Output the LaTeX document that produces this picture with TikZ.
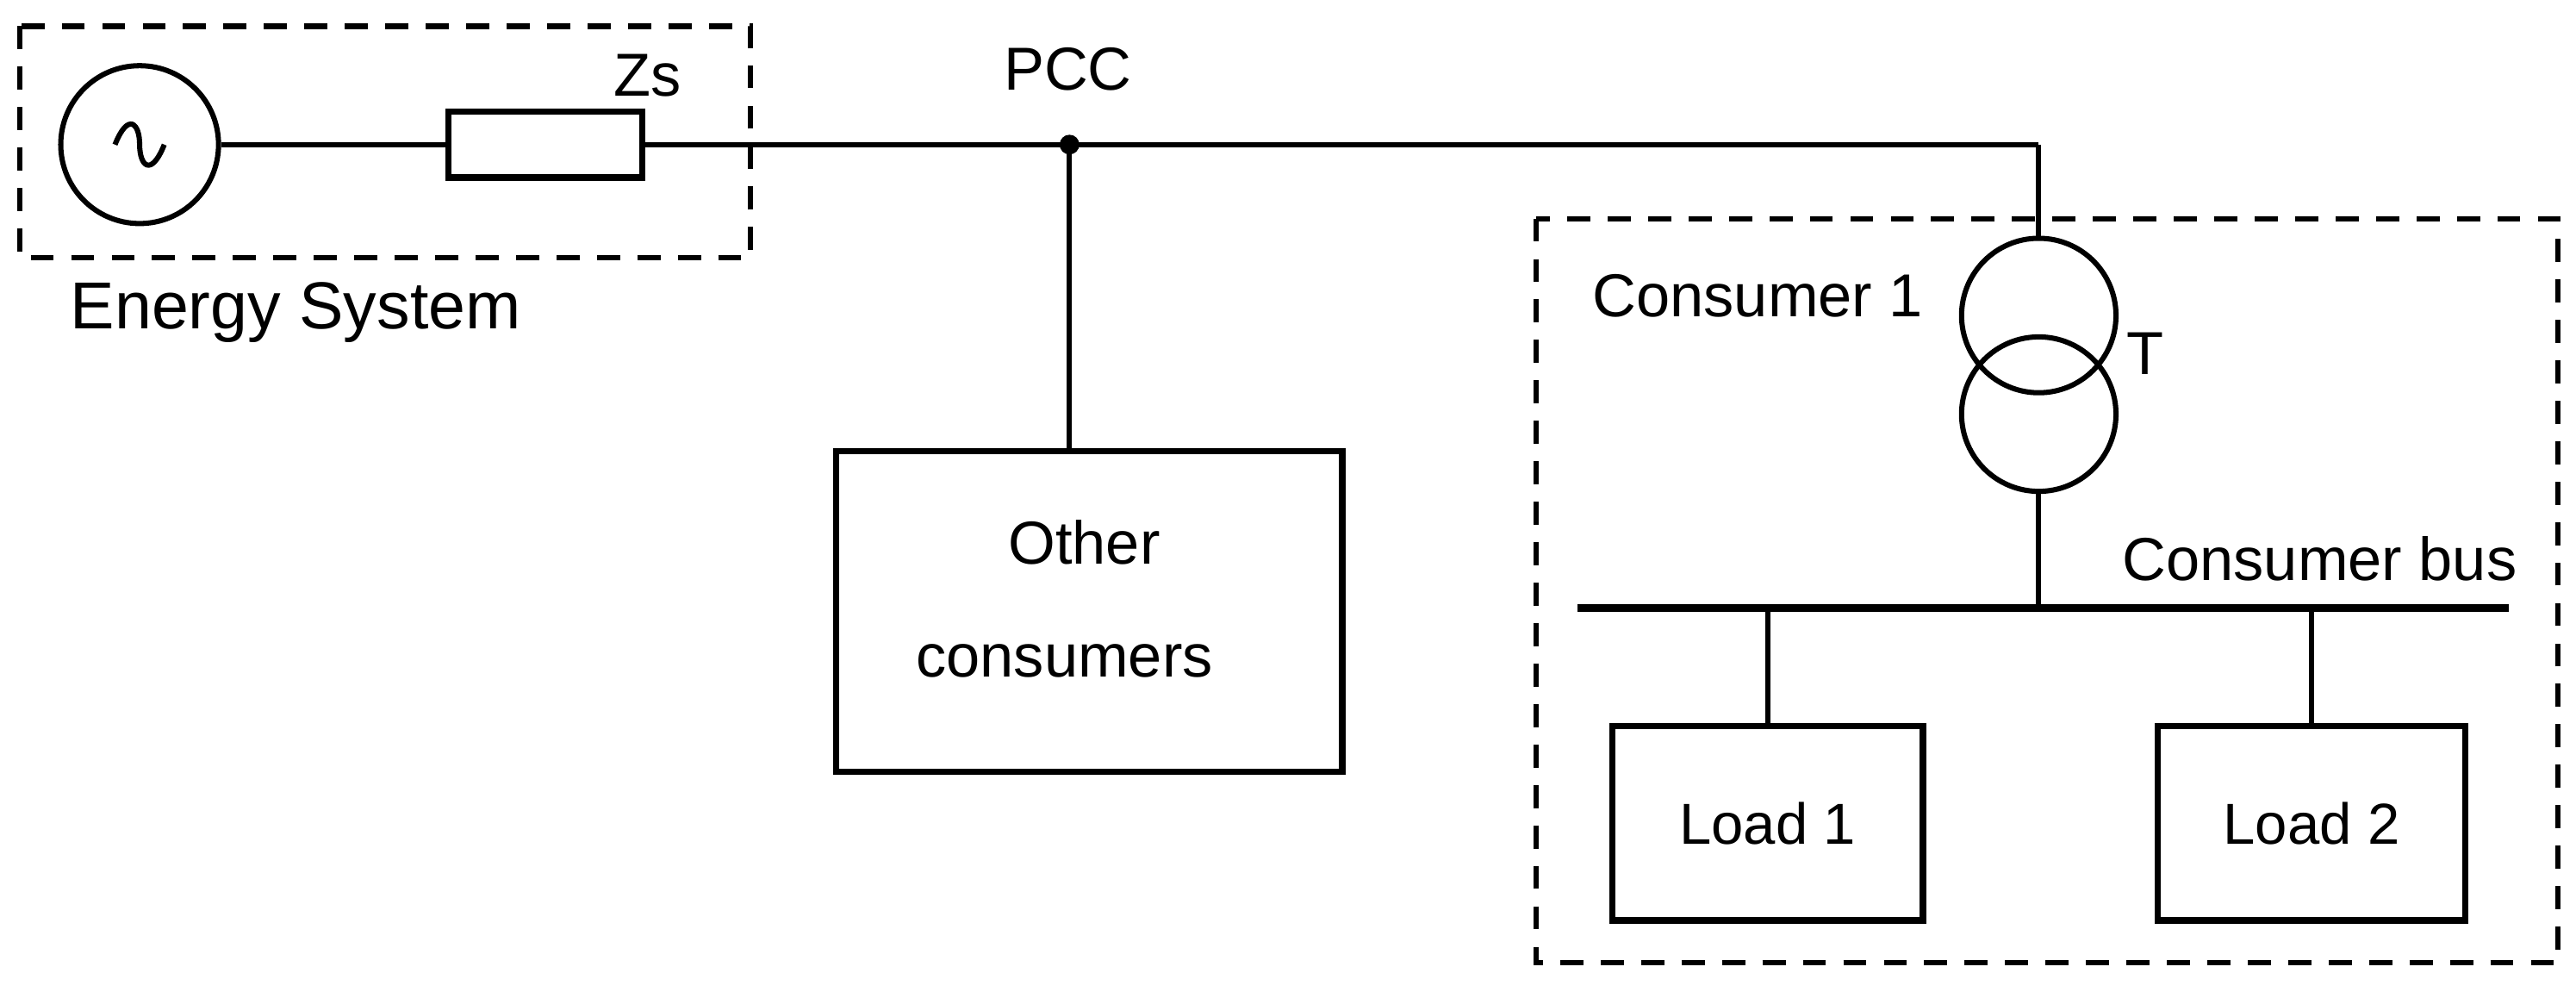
\documentclass[tikz,border=0pt]{standalone}
\usepackage{fontspec}
\setmainfont{Liberation Sans}
\usetikzlibrary{positioning}
\tikzset{
  wire/.style={line width=0.9pt},
  frame/.style={line width=0.9pt, dash pattern=on 4pt off 3pt},
  block/.style={draw, line width=1.1pt, inner sep=0pt, align=center},
  lbl/.style={inner sep=0pt, font=\fontsize{10.5}{12}\selectfont}
}
\begin{document}
\begin{tikzpicture}[x=0.01cm,y=-0.01cm]
  \useasboundingbox (0,0) rectangle (1568,607);
  % energy system
  \draw[frame] (12,16) rectangle (457,157);
  \node[circle, draw, wire, minimum size=0.96cm, inner sep=0pt] (src) at (85,88) {};
  \draw[wire] (70,88) .. controls (78,68) and (85,75) .. (85,88) .. controls (85,101) and (92,108) .. (100,88);
  \node[block, minimum width=1.18cm, minimum height=0.4cm] (zs) at (332,88) {};
  \node[lbl] (zslbl) at (394,46) {Zs};
  \node[lbl, font=\fontsize{11.5}{13}\selectfont] (es) at (180,190) {Energy System};
  % pcc
  \fill (651,88) circle (6) coordinate (pcc);
  \node[lbl] (pcclbl) at (650,42) {PCC};
  \coordinate (tap) at (1241,88);
  \draw[wire] (src) -- (zs) -- (pcc) -- (tap);
  \node[block, minimum width=3.08cm, minimum height=1.95cm] (oc) at (663,372) {};
  \node[lbl] at (660,330) {Other};
  \node[lbl] at (648,402) {consumers};
  \draw[wire] (pcc) -- (oc.north -| pcc);
  % consumer 1
  \draw[frame] (935,133) rectangle (1557,586);
  \node[lbl] (c1) at (1070,180) {Consumer 1};
  \draw[wire] (1241,192) circle (47);
  \draw[wire] (1241,252) circle (47);
  \coordinate (ttop) at (1241,145);
  \coordinate (tbot) at (1241,299);
  \node[lbl] (tlbl) at (1306,215) {T};
  \draw[wire] (tap) -- (ttop);
  \coordinate (busl) at (960,370);
  \coordinate (busr) at (1527,370);
  \draw[line width=1.4pt] (busl) -- (busr);
  \node[lbl] (buslbl) at (1412,340) {Consumer bus};
  \draw[wire] (tbot) -- (tbot |- busl);
  \node[block, minimum width=1.89cm, minimum height=1.18cm] (l1) at (1076,501) {Load 1};
  \node[block, minimum width=1.87cm, minimum height=1.18cm] (l2) at (1407,501) {Load 2};
  \node[lbl] at (l1) {};
  \draw[wire] (l1.north) -- (l1.north |- busl);
  \draw[wire] (l2.north) -- (l2.north |- busl);
\end{tikzpicture}
\end{document}
